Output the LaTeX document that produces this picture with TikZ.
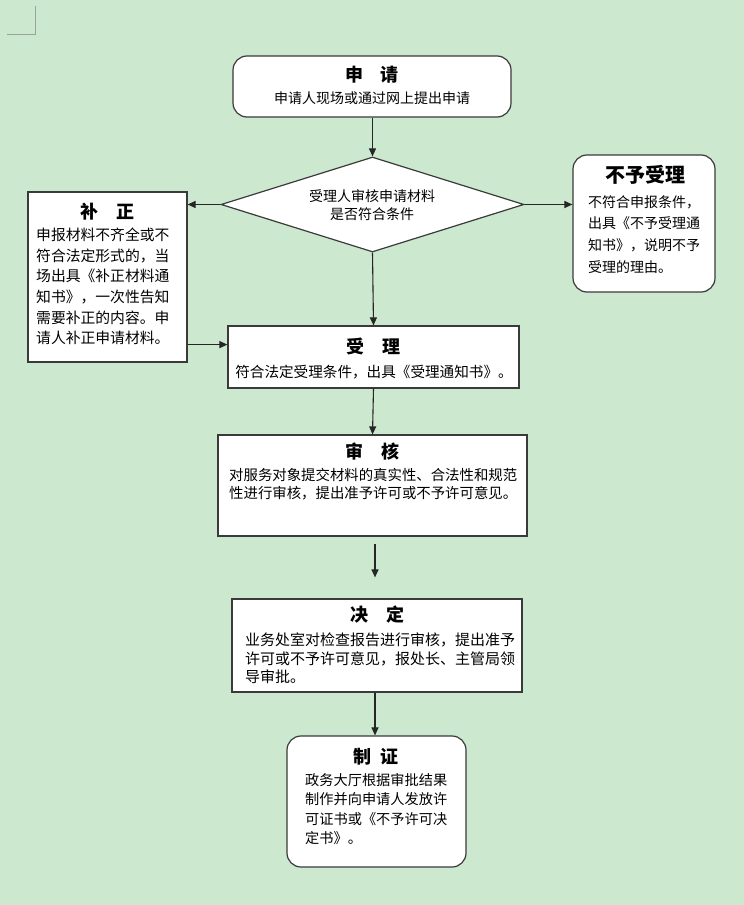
\documentclass[tikz,border=0pt]{standalone}
\usepackage{fontspec}
\setmainfont{Noto Sans CJK SC}
\usetikzlibrary{arrows.meta,shapes.geometric}
\definecolor{bg}{RGB}{204,232,207}
\definecolor{edge}{RGB}{58,58,58}
\definecolor{cornergray}{RGB}{150,165,150}
\begin{document}
\begin{tikzpicture}[x=1pt,y=-1pt,
  box/.style={draw=edge,fill=white,line width=1.2pt,inner sep=0pt},
  rbox/.style={box,rounded corners=14pt},
  ttl/.style={font=\fontsize{18}{20}\selectfont\bfseries,inner sep=0pt},
  bodytxt/.style={inner sep=0pt,align=left,anchor=west},
  arr/.style={draw=black!85,line width=1.1pt,-{Triangle[length=8pt,width=7pt]}}
  ]
\fill[bg] (0,0) rectangle (744,905);
\useasboundingbox (0,0) rectangle (744,905);
% corner mark
\draw[draw=cornergray,line width=0.9pt] (35,6) -- (35,34) -- (7,34);

% boxes
\node[rbox,minimum width=278pt,minimum height=61pt] (apply) at (372,86.5) {};
\node[draw=edge,fill=white,line width=1.2pt,diamond,inner sep=0pt,minimum width=303pt,minimum height=95pt] (check) at (372.5,204.5) {};
\node[box,minimum width=159pt,minimum height=170pt] (fix) at (107.5,277) {};
\node[rbox,minimum width=142pt,minimum height=137pt] (reject) at (644,223.5) {};
\node[box,minimum width=291pt,minimum height=62pt] (accept) at (373.5,357) {};
\node[box,minimum width=309pt,minimum height=101pt] (review) at (372.5,485.5) {};
\node[box,minimum width=290pt,minimum height=93pt] (decide) at (377,645.5) {};
\node[rbox,minimum width=179pt,minimum height=131pt] (cert) at (376.5,801.5) {};

% texts
\node[ttl] (applyT) at (372,75) {申\hspace{0.9em}请};
\node[inner sep=0pt,font=\fontsize{14}{18}\selectfont] (applyB) at (372,98) {申请人现场或通过网上提出申请};

\node[inner sep=0pt,align=center,font=\fontsize{14}{18}\selectfont] (checkT) at (372,205) {受理人审核申请材料\\是否符合条件};

\node[ttl] (fixT) at (107,212) {补\hspace{1em}正};
\node[bodytxt,font=\fontsize{14.8}{20.6}\selectfont] (fixB) at (36,286.5) {申报材料不齐全或不\\符合法定形式的，当\\场出具《补正材料通\\知书》，一次性告知\\需要补正的内容。申\\请人补正申请材料。};

\node[ttl,font=\fontsize{20}{22}\selectfont\bfseries] (rejectT) at (645,175) {不予受理};
\node[bodytxt,font=\fontsize{14}{21.7}\selectfont] (rejectB) at (588,234.5) {不符合申报条件，\\出具《不予受理通\\知书》，说明不予\\受理的理由。};

\node[ttl] (acceptT) at (373,346) {受\hspace{1em}理};
\node[inner sep=0pt,font=\fontsize{14.6}{18}\selectfont] (acceptB) at (374,372) {符合法定受理条件，出具《受理通知书》。};

\node[ttl] (reviewT) at (372,452) {审\hspace{1em}核};
\node[bodytxt,font=\fontsize{14.4}{18}\selectfont] (reviewB) at (229,484) {对服务对象提交材料的真实性、合法性和规范\\性进行审核，提出准予许可或不予许可意见。};

\node[ttl] (decideT) at (377,615) {决\hspace{1em}定};
\node[bodytxt,font=\fontsize{15}{18.5}\selectfont] (decideB) at (245,658.5) {业务处室对检查报告进行审核，提出准予\\许可或不予许可意见，报处长、主管局领\\导审批。};

\node[ttl] (certT) at (376,757) {制\hspace{0.5em}证};
\node[bodytxt,font=\fontsize{14.2}{19.3}\selectfont] (certB) at (305,809) {政务大厅根据审批结果\\制作并向申请人发放许\\可证书或《不予许可决\\定书》。};

% connectors
\draw[arr] (apply.south -| check.north) -- (check.north);
\draw[arr] (check.west) -- (check.west -| fix.east);
\draw[arr] (check.east) -- (check.east -| reject.west);
\draw[arr] (check.south) -- (accept.north);
\draw[arr] ([yshift=18pt]fix.south east) -- ([yshift=18pt]fix.south east -| accept.west);
\draw[arr] (accept.south) -- (review.north);
\draw[arr] ([xshift=2.5pt,yshift=-7pt]review.south) -- ([xshift=-2pt,yshift=21pt]decide.north);
\draw[arr] ([xshift=-2pt]decide.south) -- ([xshift=-1.5pt]cert.north);
\end{tikzpicture}
\end{document}
